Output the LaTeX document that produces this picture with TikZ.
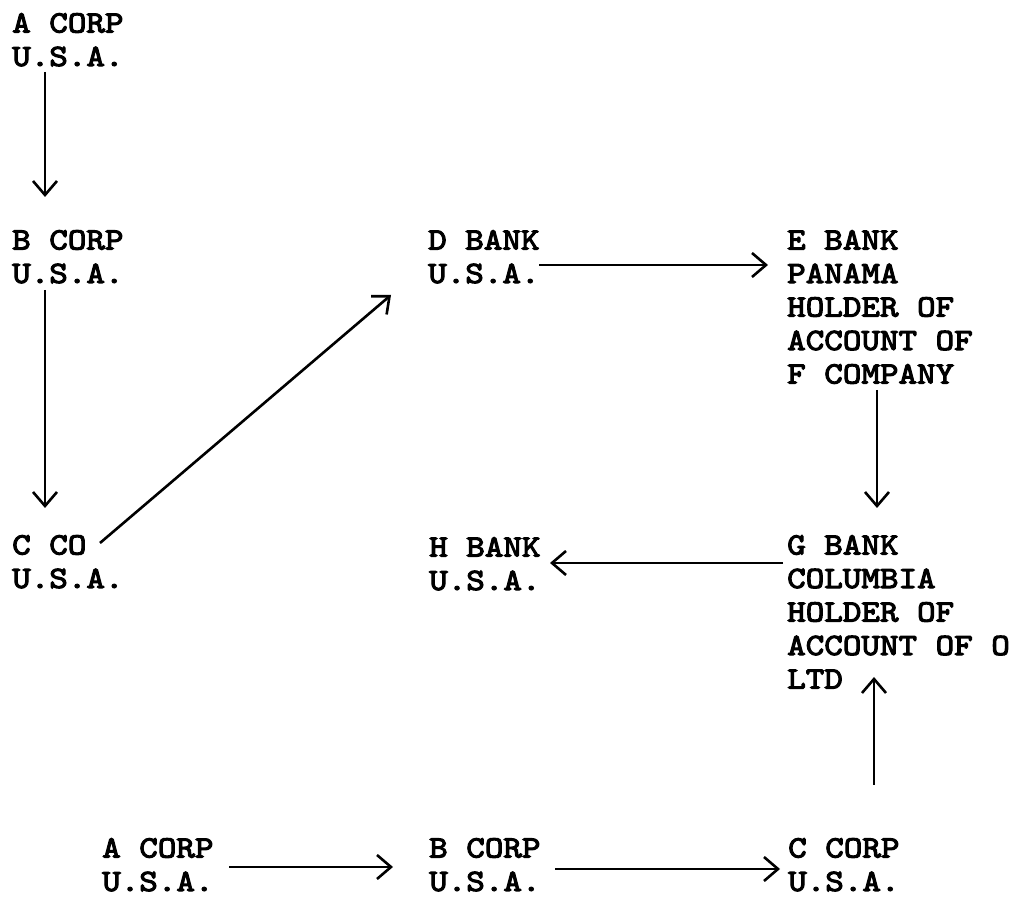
\documentclass[tikz,border=0pt]{standalone}
\usepackage{fontspec}
\newfontfamily\tw{lmmono10-regular.otf}[FakeStretch=1.14,FakeBold=3.5]
\usetikzlibrary{arrows.meta,calc}
\tikzset{
  lbl/.style={anchor=north west,inner sep=0pt,align=left,font=\tw\fontsize{31}{33.5}\selectfont},
  arr/.style={line width=2.6pt,-{Straight Barb[length=14pt,width=24pt,line width=2.6pt]}}
}
\begin{document}
\begin{tikzpicture}[x=1pt,y=1pt]
\useasboundingbox (0,0) rectangle (1013,897);
\node[lbl] (a1) at (12,884) {A CORP\\U.S.A.};
\node[lbl] (b1) at (12,667) {B CORP\\U.S.A.};
\node[lbl] (c1) at (12,362) {C CO\\U.S.A.};
\node[lbl] (d) at (428,667) {D BANK\\U.S.A.};
\node[lbl] (e) at (787,667) {E BANK\\PANAMA\\HOLDER OF\\ACCOUNT OF\\F COMPANY};
\node[lbl] (h) at (429,360) {H BANK\\U.S.A.};
\node[lbl] (g) at (787,362) {G BANK\\COLUMBIA\\HOLDER OF\\ACCOUNT OF O\\LTD};
\node[lbl] (a2) at (102,59) {A CORP\\U.S.A.};
\node[lbl] (b2) at (429,59) {B CORP\\U.S.A.};
\node[lbl] (c2) at (788,59) {C CORP\\U.S.A.};
\draw[arr] ($(a1.north west)+(33,-59)$) -- ($(b1.north west)+(33,33)$);
\draw[arr] ($(b1.north west)+(33,-60)$) -- ($(c1.north west)+(33,27)$);
\draw[arr] ($(c1.north west)+(88,-8)$) -- ($(d.north west)+(-37,-65)$);
\draw[arr] ($(d.north west)+(111,-35)$) -- ($(e.north west)+(-19,-35)$);
\draw[arr] ($(e.north west)+(90,-160)$) -- ($(g.north west)+(90,27)$);
\draw[arr] ($(g.north west)+(-4,-28)$) -- ($(h.north west)+(121,-26)$);
\draw[arr] ($(c2.north west)+(86,53)$) -- ($(g.north west)+(87,-142)$);
\draw[arr] ($(a2.north west)+(127,-29)$) -- ($(b2.north west)+(-36,-29)$);
\draw[arr] ($(b2.north west)+(126,-31)$) -- ($(c2.north west)+(-8,-31)$);
\end{tikzpicture}
\end{document}
